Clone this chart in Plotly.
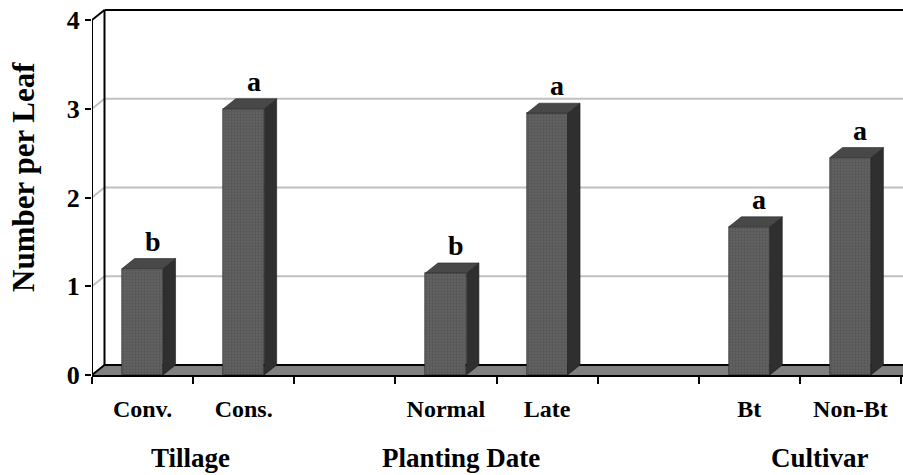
import plotly.graph_objects as go

# Data
categories = ["Conv.", "Cons.", "", "Normal", "Late", "", "Bt", "Non-Bt"]
values = [1.2, 3.0, None, 1.15, 2.95, None, 1.67, 2.45]
letters = ["b", "a", "", "b", "a", "", "a", "a"]
groups = ["Tillage", "Planting Date", "Cultivar"]
group_centers = [0.47, 3.15, 6.7]
y_ticks = [0, 1, 2, 3, 4]
y_title = "Number per Leaf"

# Layout geometry
W, H = 903, 475
ML, MR, MT, MB = 92, 0, 8, 100
plot_w = W - ML - MR
plot_h = H - MT - MB
n_cat = len(categories)
px_per_cat = 809 / n_cat
x_min = -0.5
x_max = x_min + plot_w / px_per_cat
px_per_unit = 88.75
y_max = plot_h / px_per_unit
DX = 12.5 / px_per_cat          # depth offset along x (category units)
DY = 10.0 / px_per_unit         # depth offset along y (value units)
BAR_W = 0.405

FONT = "Liberation Serif, Times New Roman, serif"

xs = list(range(n_cat))
bx = [x for x, v in zip(xs, values) if v is not None]
bv = [v for v in values if v is not None]

fig = go.Figure()

# Front faces of the columns
fig.add_trace(go.Bar(
    x=bx, y=bv, width=BAR_W,
    marker=dict(color="#5e5e5e",
                line=dict(color="#262626", width=0.6),
                pattern=dict(shape=".", fgcolor="#474747", bgcolor="#636363",
                             size=3, solidity=0.45)),
    hoverinfo="skip", showlegend=False,
))

# Side and top faces built from the same values
side_x, side_y, top_x, top_y = [], [], [], []
for x, v in zip(bx, bv):
    xl, xr = x - BAR_W / 2, x + BAR_W / 2
    side_x += [xr, xr + DX, xr + DX, xr, xr, None]
    side_y += [0, DY, v + DY, v, 0, None]
    top_x += [xl, xr, xr + DX, xl + DX, xl, None]
    top_y += [v, v, v + DY, v + DY, v, None]

fig.add_trace(go.Scatter(
    x=side_x, y=side_y, mode="lines", fill="toself",
    fillcolor="#2f2f2f", line=dict(color="#1e1e1e", width=0.6),
    hoverinfo="skip", showlegend=False,
))
fig.add_trace(go.Scatter(
    x=top_x, y=top_y, mode="lines", fill="toself",
    fillcolor="#484848", line=dict(color="#262626", width=0.6),
    hoverinfo="skip", showlegend=False,
))

# Separation letters above the columns
for x, v, t in zip(xs, values, letters):
    if v is None or not t:
        continue
    fig.add_annotation(
        x=x + DX * 0.8, y=v + DY, text=t, showarrow=False,
        yanchor="bottom", xanchor="center", yshift=0,
        font=dict(family=FONT, size=28, color="black", weight="bold"),
    )

# Floor, back wall and gridlines
shapes = []
floor_path = (f"M {x_min},0 L {x_max + DX},0 L {x_max + DX},{DY} "
              f"L {x_min + DX},{DY} Z")
shapes.append(dict(type="path", path=floor_path, xref="x", yref="y",
                   fillcolor="#808080", line=dict(width=0), layer="below"))
for t in y_ticks:
    if t == 0 or t == y_ticks[-1]:
        color, width = "black", 2
    else:
        color, width = "#c0c0c0", 2
    shapes.append(dict(type="line", xref="x", yref="y",
                       x0=x_min, y0=t, x1=x_min + DX, y1=t + DY,
                       line=dict(color=color, width=width), layer="below"))
    shapes.append(dict(type="line", xref="x", yref="y",
                       x0=x_min + DX, y0=t + DY, x1=x_max + DX, y1=t + DY,
                       line=dict(color=color, width=width), layer="below"))
# back wall left edge
shapes.append(dict(type="line", xref="x", yref="y",
                   x0=x_min + DX, y0=DY, x1=x_min + DX, y1=y_ticks[-1] + DY,
                   line=dict(color="black", width=2), layer="below"))
# front value axis
shapes.append(dict(type="line", xref="x", yref="y",
                   x0=x_min, y0=0, x1=x_min, y1=y_ticks[-1],
                   line=dict(color="black", width=2), layer="above"))

# Group labels under the categories
for g, c in zip(groups, group_centers):
    fig.add_annotation(
        x=c, xref="x", y=-(458 - (H - MB)) / plot_h, yref="paper",
        text=g, showarrow=False, xanchor="center", yanchor="middle",
        font=dict(family=FONT, size=27, color="black", weight="bold"),
    )

# Value axis title
fig.add_annotation(
    x=(23 - ML) / plot_w, xref="paper", y=((H - MB) - 177) / plot_h, yref="paper",
    text=y_title, textangle=-90, showarrow=False,
    xanchor="center", yanchor="middle",
    font=dict(family=FONT, size=31, color="black", weight="bold"),
)

label_vals = [x for x, c in zip(xs, categories) if c]
label_text = [c for c in categories if c]

fig.update_layout(
    width=W, height=H,
    margin=dict(l=ML, r=MR, t=MT, b=MB),
    paper_bgcolor="white", plot_bgcolor="white",
    shapes=shapes,
    bargap=0,
    xaxis=dict(
        range=[x_min, x_max], showgrid=False, zeroline=False,
        showline=True, linecolor="black", linewidth=2,
        tickvals=label_vals, ticktext=label_text, ticks="",
        ticklabelstandoff=11,
        tickfont=dict(family=FONT, size=24, color="black", weight="bold"),
        minor=dict(tickvals=[i - 0.5 for i in range(n_cat + 1)],
                   ticks="outside", ticklen=7, tickwidth=1.5,
                   tickcolor="black", showgrid=False),
        fixedrange=True,
    ),
    yaxis=dict(
        range=[0, y_max], showgrid=False, zeroline=False, showline=False,
        tickvals=y_ticks, ticks="outside", ticklen=6, tickwidth=2,
        tickcolor="black",
        tickfont=dict(family=FONT, size=26, color="black", weight="bold"),
        fixedrange=True,
    ),
)

fig.write_html("out.html")
